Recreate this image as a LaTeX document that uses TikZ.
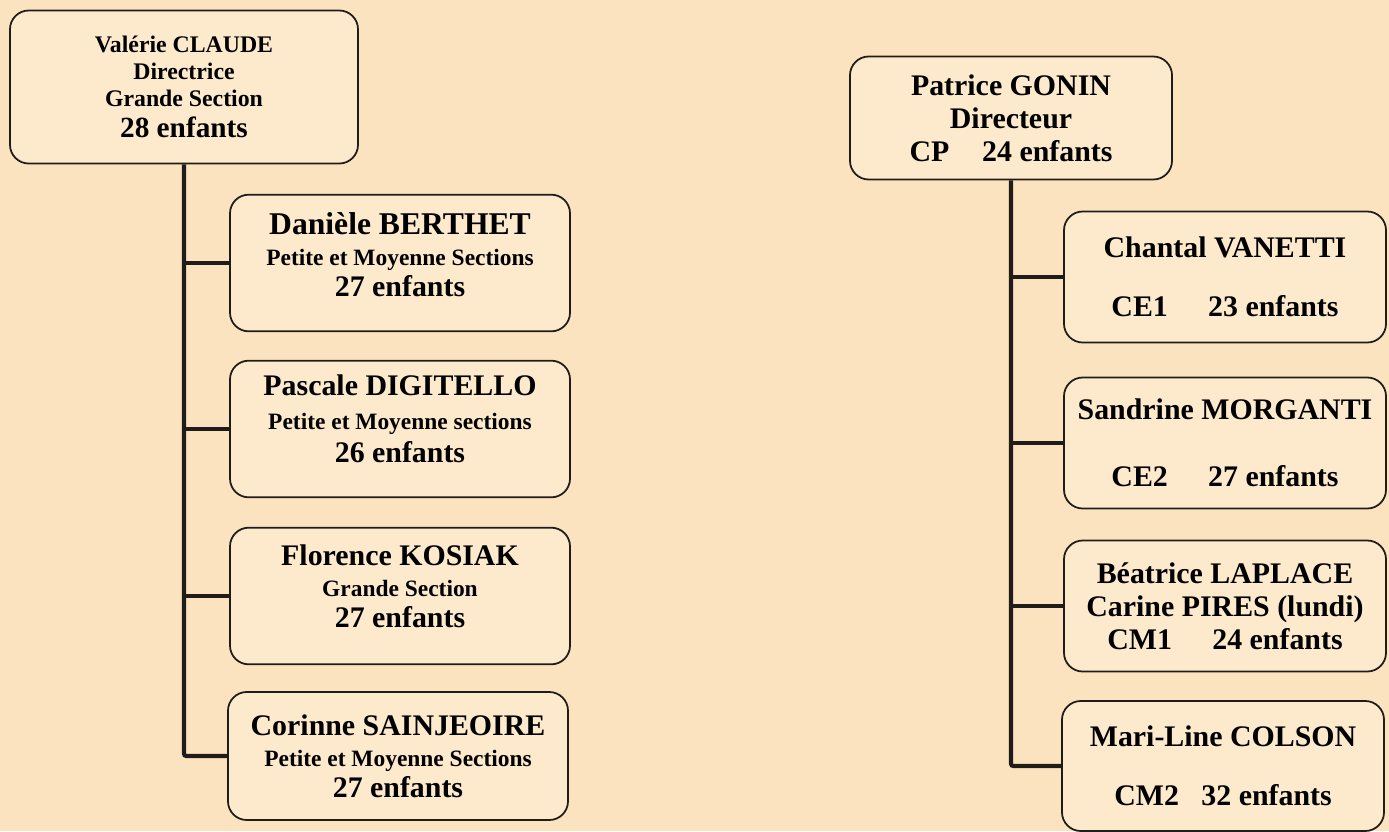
\documentclass[tikz,border=0pt]{standalone}
\usepackage{fontspec}
\setmainfont{Liberation Serif}
\usetikzlibrary{positioning}

\definecolor{paper}{RGB}{252,227,192}
\definecolor{cardfill}{RGB}{253,233,204}
\definecolor{ink}{RGB}{32,28,25}

\newcommand{\fgrand}{\fontsize{25.5}{27}\selectfont}
\newcommand{\fmoyen}{\fontsize{20}{22}\selectfont}
\newcommand{\fdir}{\fontsize{20.3}{23}\selectfont}

\begin{document}
\begin{tikzpicture}[x=0.03cm,y=-0.03cm,
    card/.style={draw=ink,line width=1.5pt,fill=cardfill,rounded corners=16pt,
      align=center,inner sep=0pt,font=\bfseries},
    leftcard/.style={card,minimum width=10.2cm,minimum height=4.1cm,
      font=\bfseries\fontsize{25.5}{26.5}\selectfont},
    rightcard/.style={card,minimum width=9.66cm,minimum height=3.93cm,font=\bfseries\fgrand},
    link/.style={draw=ink,line width=3.6pt,rounded corners=2pt}]
        \fill[paper] (0,0) rectangle (1389,831);
        \useasboundingbox (0,0) rectangle (1389,831);
        % maternelle
        \node[card,minimum width=10.44cm,minimum height=4.59cm,font=\bfseries\fdir] (claude) at (184,87)
          {Valérie CLAUDE\\ Directrice\\ Grande Section\\[3pt] {\fontsize{25}{27}\selectfont 28 enfants}};
        \node[leftcard] (berthet) at (400,263)
          {{\fontsize{27}{27}\selectfont Danièle BERTHET}\\ {\fmoyen Petite et Moyenne Sections}\\ 27 enfants\\[-12pt]\mbox{}};
        \node[leftcard] (digitello) at (400,429)
          {Pascale DIGITELLO\\[2pt] {\fmoyen Petite et Moyenne sections}\\[2pt] 26 enfants\\[-9pt]\mbox{}};
        \node[leftcard] (kosiak) at (400,596)
          {Florence KOSIAK\\ {\fmoyen Grande Section}\\ 27 enfants\\[-10pt]\mbox{}};
        \node[leftcard,minimum height=3.84cm] (sainjeoire) at (398,756)
          {Corinne SAINJEOIRE\\ {\fmoyen Petite et Moyenne Sections}\\ 27 enfants};
        % elementaire
        \node[card,minimum width=9.66cm,minimum height=3.69cm,font=\bfseries\fgrand] (gonin) at (1011,118)
          {Patrice GONIN\\[1pt] Directeur\\[1pt] CP\hspace{1.1em}24 enfants};
        \node[rightcard] (vanetti) at (1225,277)
          {Chantal VANETTI\\[23pt] CE1\hspace{1.35em}23 enfants};
        \node[rightcard] (morganti) at (1225,443)
          {Sandrine MORGANTI\\[30pt] CE2\hspace{1.35em}27 enfants};
        \node[rightcard] (laplace) at (1225,606)
          {Béatrice LAPLACE\\[1pt] Carine PIRES (lundi)\\[1pt] CM1\hspace{1.35em}24 enfants};
        \node[rightcard,minimum height=3.9cm] (colson) at (1223,766)
          {Mari-Line COLSON\\[23pt] CM2\hspace{0.75em}32 enfants};
        % liaisons
        \draw[link] (claude.south) |- (sainjeoire.west);
        \draw[link] (claude.south |- berthet.west) -- (berthet.west);
        \draw[link] (claude.south |- digitello.west) -- (digitello.west);
        \draw[link] (claude.south |- kosiak.west) -- (kosiak.west);
        \draw[link] (gonin.south) |- (colson.west);
        \draw[link] (gonin.south |- vanetti.west) -- (vanetti.west);
        \draw[link] (gonin.south |- morganti.west) -- (morganti.west);
        \draw[link] (gonin.south |- laplace.west) -- (laplace.west);
\end{tikzpicture}
\end{document}
